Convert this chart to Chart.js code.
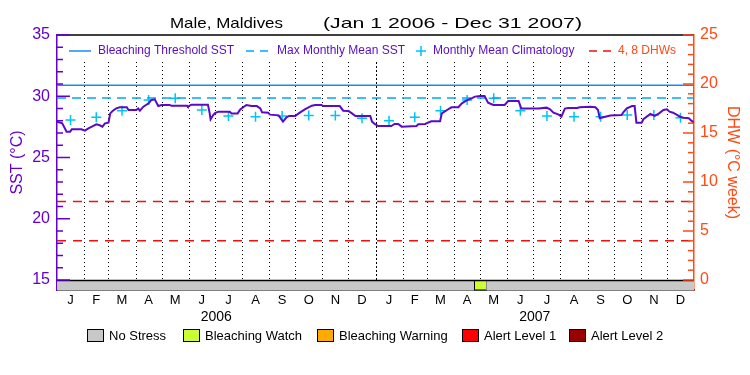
<!DOCTYPE html>
<html>
<head>
<meta charset="utf-8">
<script src="https://cdn.jsdelivr.net/npm/chart.js@4.4.0/dist/chart.umd.min.js"></script>
<style>
  html, body { margin: 0; padding: 0; background: #fff; }
</style>
</head>
<body>
<canvas id="graphique" width="750" height="375"></canvas>
<script>
// jours depuis le 1er janvier 2006 / SST
const sstJours = [0, 6, 11, 15, 17, 28, 32, 36, 40, 45, 49, 52, 55, 59, 61, 64, 68, 72, 80, 82,
  91, 93, 95, 99, 105, 108, 112, 116, 120, 129, 131, 149, 150, 154, 173, 175, 176, 179, 181, 185,
  198, 200, 207, 210, 217, 223, 229, 233, 235, 242, 244, 254, 257, 259, 263, 266, 273, 277, 284, 292,
  296, 303, 305, 324, 328, 334, 338, 342, 359, 361, 364, 368, 383, 387, 391, 395, 412, 414, 422, 425,
  429, 439, 441, 447, 452, 460, 464, 469, 475, 479, 485, 490, 494, 500, 513, 517, 529, 532, 552, 561,
  565, 569, 575, 578, 582, 586, 596, 599, 611, 617, 620, 622, 626, 634, 647, 649, 653, 659, 662, 664,
  670, 672, 680, 685, 690, 695, 699, 702, 706, 710, 714, 718, 724, 727, 730];
const sstValeurs = [27.93, 27.79, 27.11, 27.11, 27.30, 27.30, 27.19, 27.38, 27.52, 27.71, 27.63, 27.52, 27.79, 27.84, 28.60, 28.82, 29.01, 29.10, 29.10, 28.88,
  28.88, 29.01, 28.82, 29.15, 29.42, 29.69, 29.75, 29.20, 29.29, 29.29, 29.23, 29.23, 29.15, 29.31, 29.31, 28.60, 28.12, 28.47, 28.62, 28.74,
  28.74, 28.60, 28.60, 28.93, 29.29, 29.20, 29.20, 29.01, 28.69, 28.66, 28.50, 28.44, 28.12, 27.93, 28.28, 28.39, 28.39, 28.60, 28.93, 29.23,
  29.29, 29.29, 29.20, 29.20, 28.82, 28.80, 28.60, 28.39, 28.39, 27.93, 27.74, 27.57, 27.57, 27.74, 27.74, 27.52, 27.57, 27.71, 27.74, 27.84,
  27.95, 27.95, 28.60, 28.88, 29.10, 29.10, 29.42, 29.64, 29.83, 29.97, 30.02, 30.02, 29.48, 29.29, 29.29, 29.61, 29.61, 29.01, 29.01, 29.07,
  28.93, 28.66, 28.50, 28.33, 28.99, 29.04, 29.04, 29.10, 29.15, 29.10, 28.88, 28.20, 28.28, 28.42, 28.47, 28.69, 29.01, 29.20, 29.20, 27.84,
  27.84, 28.12, 28.55, 28.39, 28.60, 28.88, 28.93, 28.74, 28.66, 28.50, 28.33, 28.25, 28.20, 28.01, 27.84];

const milieuxMois = [15.5, 45, 74.5, 105, 135.5, 166, 196.5, 227.5, 258, 288.5, 319, 349.5,
  380.5, 410, 439.5, 470, 500.5, 531, 561.5, 592.5, 623, 653.5, 684, 714.5];
const climValeurs = [28.06, 28.28, 28.82, 29.69, 29.83, 28.88, 28.39, 28.33, 28.39, 28.42, 28.42, 28.20,
  28.01, 28.28, 28.82, 29.69, 29.83, 28.82, 28.39, 28.33, 28.33, 28.47, 28.47, 28.25];

const seuilBlanchiment = 30.9;
const mmmValeur = 29.85;
const niveauxDhw = [4, 8];

const lettresMois = ["J", "F", "M", "A", "M", "J", "J", "A", "S", "O", "N", "D"];
const limitesMois = [31, 59, 90, 120, 151, 181, 212, 243, 273, 304, 334, 365,
  396, 424, 455, 485, 516, 546, 577, 608, 638, 669, 699];
const annees = ["2006", "2007"];
const milieuxAnnees = [182.5, 547.5];
const sstTicks = [15, 20, 25, 30, 35];
const dhwTicks = [0, 5, 10, 15, 20, 25];

const stressDebut = [0, 478, 492];
const stressFin = [478, 492, 730];
const stressNiveau = [0, 1, 0];
const stressNoms = ["No Stress", "Bleaching Watch", "Bleaching Warning", "Alert Level 1", "Alert Level 2"];

// styles
const police = "'Liberation Sans', Arial, sans-serif";
const violetAxe = "#6600cc";
const violetLigne = "#5a0ac8";
const bleuSeuil = "#1a8cf0";
const bleuMmm = "#00a6ff";
const cyanClim = "#00c4f4";
const rougeDhw = "#f01010";
const orangeAxe = "#ff4a14";
const couleursStress = ["#c8c8c8", "#ccff33", "#ffaa00", "#ff0000", "#990000"];

function pointsSst() {
  const points = [];
  for (var i = 0; i < sstJours.length; i++) {
    points.push({ x: sstJours[i], y: sstValeurs[i] });
  }
  return points;
}

function pointsClim() {
  const points = [];
  for (var i = 0; i < milieuxMois.length; i++) {
    points.push({ x: milieuxMois[i], y: climValeurs[i] });
  }
  return points;
}

function ligneHorizontale(v) {
  return [{ x: 0, y: v }, { x: 730, y: v }];
}

// texte etire horizontalement pour tenir entre x1 et x2
function texteLarge(ctx, texte, x1, x2, y) {
  const w = ctx.measureText(texte).width;
  ctx.save();
  ctx.translate(x1, y);
  ctx.scale((x2 - x1) / w, 1);
  ctx.textAlign = "left";
  ctx.fillText(texte, 0, 0);
  ctx.restore();
}

const dessinPerso = {
  id: "dessinPerso",
  beforeDatasetsDraw(chart) {
    const ctx = chart.ctx;
    const sx = chart.scales.x;
    const sy = chart.scales.y;
    const zone = chart.chartArea;
    ctx.save();
    // lignes pointillees des mois
    ctx.strokeStyle = "#000";
    ctx.lineWidth = 1;
    for (var i = 0; i < limitesMois.length; i++) {
      const px = Math.round(sx.getPixelForValue(limitesMois[i])) + 0.5;
      ctx.setLineDash(limitesMois[i] === 365 ? [2, 2] : [1, 3]);
      ctx.beginPath();
      ctx.moveTo(px, 62);
      ctx.lineTo(px, sy.getPixelForValue(15));
      ctx.stroke();
    }
    ctx.setLineDash([]);
    // barre de stress
    const haut = Math.round(sy.getPixelForValue(15)) + 0.5;
    const bas = zone.bottom;
    for (var j = 0; j < stressDebut.length; j++) {
      const x1 = sx.getPixelForValue(stressDebut[j]);
      const x2 = sx.getPixelForValue(stressFin[j]);
      ctx.fillStyle = couleursStress[stressNiveau[j]];
      ctx.fillRect(x1, haut, x2 - x1, bas - haut);
      if (stressNiveau[j] > 0) {
        ctx.strokeStyle = "#000";
        ctx.strokeRect(Math.round(x1) + 0.5, haut, Math.round(x2 - x1), bas - haut);
      }
    }
    ctx.strokeStyle = "#000";
    ctx.lineWidth = 1.5;
    ctx.beginPath();
    ctx.moveTo(zone.left, haut);
    ctx.lineTo(zone.right, haut);
    ctx.stroke();
    ctx.restore();
  },
  afterDraw(chart) {
    const ctx = chart.ctx;
    const sy = chart.scales.y;
    const sy2 = chart.scales.y2;
    const zone = chart.chartArea;
    ctx.save();
    // bord du haut
    ctx.strokeStyle = "#000";
    ctx.lineWidth = 1.5;
    ctx.beginPath();
    ctx.moveTo(zone.left, zone.top);
    ctx.lineTo(zone.right, zone.top);
    ctx.stroke();
    // graduations interieures
    ctx.lineWidth = 1.5;
    ctx.strokeStyle = violetAxe;
    for (var v = 15; v <= 35; v++) {
      const py = sy.getPixelForValue(v);
      const l = v % 5 === 0 ? 13 : 6;
      ctx.beginPath();
      ctx.moveTo(zone.left, py);
      ctx.lineTo(zone.left + l, py);
      ctx.stroke();
    }
    ctx.strokeStyle = orangeAxe;
    for (var d = 0; d <= 25; d++) {
      const py = sy2.getPixelForValue(d);
      const l = d % 5 === 0 ? 11 : 6;
      ctx.beginPath();
      ctx.moveTo(zone.right, py);
      ctx.lineTo(zone.right - l, py);
      ctx.stroke();
    }
    // titre
    ctx.fillStyle = "#000";
    ctx.font = "15px " + police;
    ctx.textBaseline = "middle";
    texteLarge(ctx, "Male, Maldives", 170, 283, 24);
    texteLarge(ctx, "(Jan 1 2006 - Dec 31 2007)", 323, 582, 24);
    // legende du haut
    const yl = 51;
    ctx.font = "12px " + police;
    ctx.textAlign = "left";
    ctx.lineWidth = 1.5;
    ctx.strokeStyle = bleuSeuil;
    ctx.beginPath(); ctx.moveTo(69, yl); ctx.lineTo(91, yl); ctx.stroke();
    ctx.fillStyle = violetLigne;
    ctx.fillText("Bleaching Threshold SST", 98, yl);
    ctx.strokeStyle = bleuMmm;
    ctx.setLineDash([8, 6]);
    ctx.beginPath(); ctx.moveTo(246, yl); ctx.lineTo(272, yl); ctx.stroke();
    ctx.setLineDash([]);
    ctx.fillText("Max Monthly Mean SST", 277, yl);
    ctx.strokeStyle = cyanClim;
    ctx.beginPath();
    ctx.moveTo(416, yl); ctx.lineTo(426, yl);
    ctx.moveTo(421, yl - 5); ctx.lineTo(421, yl + 5);
    ctx.stroke();
    ctx.fillText("Monthly Mean Climatology", 433, yl);
    ctx.strokeStyle = rougeDhw;
    ctx.setLineDash([8, 6]);
    ctx.beginPath(); ctx.moveTo(589, yl); ctx.lineTo(613, yl); ctx.stroke();
    ctx.setLineDash([]);
    ctx.fillStyle = orangeAxe;
    ctx.fillText("4, 8 DHWs", 618, yl);
    // legende du stress
    const boitesX = [87, 183, 317, 462, 569];
    const yb = 335;
    ctx.font = "13px " + police;
    ctx.lineWidth = 1;
    for (var k = 0; k < stressNoms.length; k++) {
      ctx.fillStyle = couleursStress[k];
      ctx.fillRect(boitesX[k], yb - 6, 16, 12);
      ctx.strokeStyle = "#000";
      ctx.strokeRect(boitesX[k] + 0.5, yb - 5.5, 16, 12);
      ctx.fillStyle = "#000";
      ctx.fillText(stressNoms[k], boitesX[k] + 22, yb + 1);
    }
    ctx.restore();
  },
};

const configuration = {
  type: "line",
  data: {
    datasets: [
      {
        label: "SST",
        data: pointsSst(),
        xAxisID: "x",
        yAxisID: "y",
        borderColor: violetLigne,
        borderWidth: 2,
        pointRadius: 0,
        tension: 0,
      },
      {
        label: "Bleaching Threshold SST",
        data: ligneHorizontale(seuilBlanchiment),
        xAxisID: "x",
        yAxisID: "y",
        borderColor: bleuSeuil,
        borderWidth: 1.5,
        pointRadius: 0,
      },
      {
        label: "Max Monthly Mean SST",
        data: ligneHorizontale(mmmValeur),
        xAxisID: "x",
        yAxisID: "y",
        borderColor: bleuMmm,
        borderWidth: 1.5,
        borderDash: [9, 6],
        pointRadius: 0,
      },
      {
        label: "Monthly Mean Climatology",
        data: pointsClim(),
        xAxisID: "x",
        yAxisID: "y",
        showLine: false,
        pointStyle: "cross",
        pointRadius: 5,
        pointBorderColor: cyanClim,
        pointBorderWidth: 1.5,
      },
      {
        label: "4 DHW",
        data: ligneHorizontale(niveauxDhw[0]),
        xAxisID: "x",
        yAxisID: "y2",
        borderColor: rougeDhw,
        borderWidth: 1.5,
        borderDash: [9, 7],
        pointRadius: 0,
      },
      {
        label: "8 DHW",
        data: ligneHorizontale(niveauxDhw[1]),
        xAxisID: "x",
        yAxisID: "y2",
        borderColor: rougeDhw,
        borderWidth: 1.5,
        borderDash: [9, 7],
        pointRadius: 0,
      },
    ],
  },
  options: {
    responsive: false,
    animation: false,
    devicePixelRatio: 1,
    layout: { padding: { top: 35, left: 0, right: 0, bottom: 0 } },
    plugins: {
      legend: { display: false },
      title: { display: false },
      tooltip: { enabled: false },
    },
    scales: {
      x: {
        type: "linear",
        position: "bottom",
        min: 0,
        max: 730,
        afterBuildTicks: (s) => { s.ticks = milieuxMois.map((v) => ({ value: v })); },
        afterFit: (s) => { s.height = 18; },
        grid: { display: false, drawTicks: false },
        border: { display: true, color: "#000", width: 1.5 },
        ticks: {
          autoSkip: false,
          maxRotation: 0,
          padding: 3,
          color: "#000",
          font: { family: police, size: 13 },
          callback: (v, i) => lettresMois[i % 12],
        },
      },
      x2: {
        type: "linear",
        position: "bottom",
        min: 0,
        max: 730,
        afterBuildTicks: (s) => { s.ticks = milieuxAnnees.map((v) => ({ value: v })); },
        afterFit: (s) => { s.height = 67; },
        grid: { display: false, drawTicks: false },
        border: { display: false },
        ticks: {
          autoSkip: false,
          maxRotation: 0,
          padding: 1,
          color: "#000",
          font: { family: police, size: 14 },
          callback: (v, i) => annees[i],
        },
      },
      y: {
        type: "linear",
        position: "left",
        min: 14.184,
        max: 35,
        afterBuildTicks: (s) => { s.ticks = sstTicks.map((v) => ({ value: v })); },
        afterFit: (s) => { s.width = 57; },
        grid: { display: false, drawTicks: false },
        border: { display: true, color: violetAxe, width: 1.5 },
        ticks: { padding: 7, color: violetAxe, font: { family: police, size: 16 } },
        title: {
          display: true,
          text: "SST (°C)",
          color: violetAxe,
          font: { family: police, size: 16 },
          padding: { top: 8, bottom: 0 },
        },
      },
      y2: {
        type: "linear",
        position: "right",
        min: -1.02,
        max: 25,
        afterBuildTicks: (s) => { s.ticks = dhwTicks.map((v) => ({ value: v })); },
        afterFit: (s) => { s.width = 56; },
        grid: { display: false, drawTicks: false },
        border: { display: true, color: orangeAxe, width: 1.5 },
        ticks: { padding: 6, color: orangeAxe, font: { family: police, size: 16 } },
        title: {
          display: true,
          text: "DHW (°C week)",
          color: orangeAxe,
          font: { family: police, size: 16 },
          padding: { top: 8, bottom: 0 },
        },
      },
    },
  },
  plugins: [dessinPerso],
};

const graphique = document.getElementById("graphique");
const chart = new Chart(graphique, configuration);
</script>
</body>
</html>
